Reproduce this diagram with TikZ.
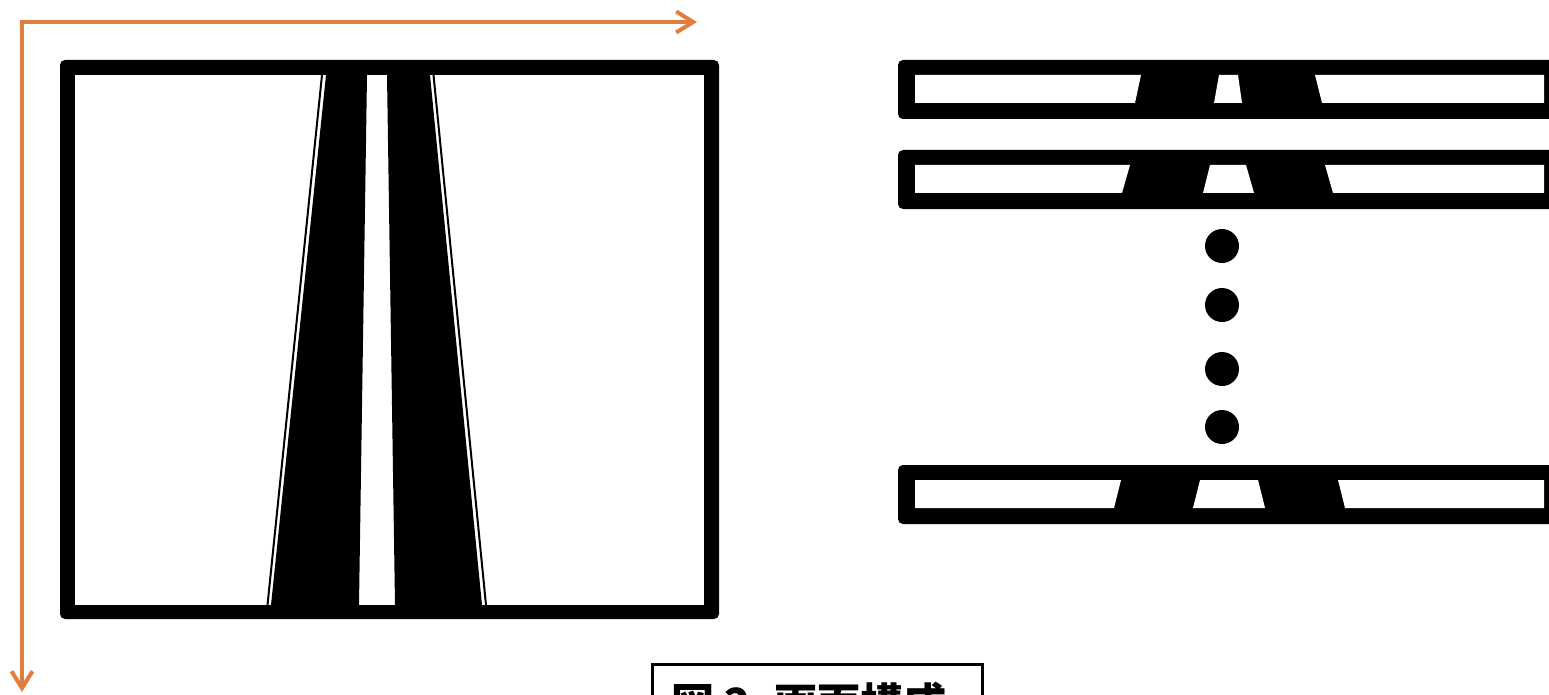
\documentclass[tikz,border=0pt]{standalone}
\usepackage{fontspec}
\newfontfamily\cjk{Noto Sans CJK JP}
\usetikzlibrary{arrows.meta}
\definecolor{axisorange}{RGB}{226,125,64}
\tikzset{
  axis/.style={draw=axisorange, line width=3.5pt, line cap=round, line join=miter,
    {Straight Barb[length=17pt,width=21pt,line width=4pt]}-{Straight Barb[length=17pt,width=21pt,line width=4pt]}},
  frameblack/.style={fill=black, rounded corners=5pt},
  hole/.style={fill=white},
  road/.style={fill=black},
  roadline/.style={draw=black, line width=2pt},
  dot/.style={fill=black},
  captionbox/.style={draw=black, line width=3pt, fill=white}
}
\begin{document}
\begin{tikzpicture}[x=1pt,y=-1pt]
\useasboundingbox (0,0) rectangle (1549,695);
\fill[white] (0,0) rectangle (1549,695);

% axes
\coordinate (o) at (22,22);
\coordinate (xe) at (697,22);
\coordinate (ye) at (22,692);
\draw[axis] (xe) -- (o) -- (ye);

% left frame with road
\fill[frameblack] (60,60) rectangle (719,619);
\fill[hole] (75,75) rectangle (704,605);
\fill[road] (326,75) -- (367,75) -- (359,605) -- (271,605) -- cycle;
\fill[road] (387,75) -- (430,75) -- (482,605) -- (395,605) -- cycle;
\draw[roadline] (322,75) -- (267.5,605);
\draw[roadline] (433.5,75) -- (486,605);

% strip 1
\fill[frameblack] (898,60) rectangle (1562,119);
\fill[hole] (915,75) -- (1141,75) -- (1135,103) -- (915,103) -- cycle;
\fill[hole] (1219,75) -- (1238,75) -- (1242,103) -- (1214,103) -- cycle;
\fill[hole] (1315,75) -- (1544,75) -- (1544,103) -- (1322,103) -- cycle;

% strip 2
\fill[frameblack] (898,150) rectangle (1562,209);
\fill[hole] (915,165) -- (1130,165) -- (1122,193) -- (915,193) -- cycle;
\fill[hole] (1210,165) -- (1246,165) -- (1254,193) -- (1203,193) -- cycle;
\fill[hole] (1325,165) -- (1544,165) -- (1544,193) -- (1333,193) -- cycle;

% dots
\fill[dot] (1222,246) circle (17);
\fill[dot] (1222,305) circle (17);
\fill[dot] (1222,369) circle (17);
\fill[dot] (1222,427) circle (17);

% strip 3
\fill[frameblack] (898,465) rectangle (1562,524);
\fill[hole] (915,480) -- (1121,480) -- (1114,508) -- (915,508) -- cycle;
\fill[hole] (1200,480) -- (1258,480) -- (1265,508) -- (1193,508) -- cycle;
\fill[hole] (1338,480) -- (1544,480) -- (1544,508) -- (1345,508) -- cycle;

% caption
\draw[captionbox] (652,664) rectangle (982,730);
\node[anchor=base west, inner sep=0pt, font=\cjk\bfseries\fontsize{43}{50}\selectfont] (cap) at (671,719) {図 2\hspace{24pt}画面構成};
\end{tikzpicture}
\end{document}
